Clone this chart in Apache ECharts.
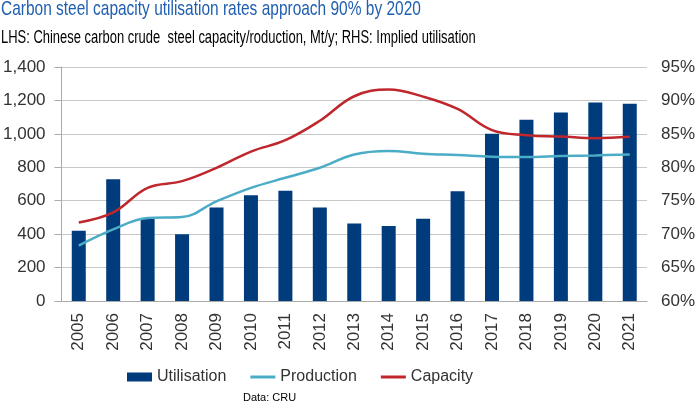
<!DOCTYPE html>
<html>
<head>
<meta charset="utf-8">
<script src="https://cdn.jsdelivr.net/npm/echarts@6/dist/echarts.min.js"></script>
<style>
  html, body { margin: 0; padding: 0; background: #fff; }
  #chart { width: 698px; height: 403px; }
</style>
</head>
<body>
<div id="chart"></div>
<script>
// categories
var years = ['2005', '2006', '2007', '2008', '2009', '2010', '2011', '2012', '2013',
  '2014', '2015', '2016', '2017', '2018', '2019', '2020', '2021'];
// RHS: implied utilisation, %
var utilisation = [70.5, 78.2, 72.3, 70.0, 74.0, 75.8, 76.5, 74.0, 71.6,
  71.2, 72.3, 76.4, 85.0, 87.1, 88.2, 89.7, 89.5];
// LHS: Mt/y
var production = [331, 428, 496, 502, 596, 677, 737, 797, 877,
  898, 881, 873, 863, 861, 867, 871, 877];
var capacity = [470, 530, 677, 717, 797, 894, 962, 1078, 1225,
  1265, 1223, 1149, 1022, 992, 984, 974, 982];

var plain = '"Liberation Sans", Arial, sans-serif';
var gridGrey = '#c8c8c8';
var labelColor = '#333333';
var lineIcon = 'path://M0,0 H25 V3 H0 Z';

var chart = echarts.init(document.getElementById('chart'));
chart.setOption({
  animation: false,
  // title lines are drawn squeezed, the original uses a narrow face
  graphic: [
    {
      type: 'text', x: 1, y: -1, scaleX: 0.737,
      style: {
        text: 'Carbon steel capacity utilisation rates approach 90% by 2020',
        font: '21px ' + plain, fill: '#1f5faf'
      }
    },
    {
      type: 'text', x: 1, y: 29, scaleX: 0.72,
      style: {
        text: 'LHS: Chinese carbon crude  steel capacity/roduction, Mt/y; RHS: Implied utilisation',
        font: '18px ' + plain, fill: '#000'
      }
    },
    {
      type: 'text', x: 243, y: 392,
      style: { text: 'Data: CRU', font: '11px ' + plain, fill: '#000' }
    }
  ],
  legend: {
    left: 122, top: 364,
    itemWidth: 25, itemHeight: 9, itemGap: 24,
    textStyle: { fontFamily: plain, fontSize: 16, color: labelColor },
    data: [
      { name: 'Utilisation', icon: 'rect' },
      { name: 'Production', icon: lineIcon, symbolKeepAspect: true },
      { name: 'Capacity', icon: lineIcon, symbolKeepAspect: true }
    ]
  },
  grid: { left: 58, right: 48, top: 67, bottom: 102, containLabel: false },
  xAxis: {
    type: 'category',
    data: years,
    axisLine: { lineStyle: { color: '#aaa' } },
    axisTick: { length: 6, lineStyle: { color: '#aaa' } },
    axisLabel: { rotate: 90, margin: 12, fontFamily: plain, fontSize: 17, color: labelColor }
  },
  yAxis: [
    {
      type: 'value', min: 0, max: 1400, interval: 200,
      axisLine: { show: true, lineStyle: { color: '#aaa' } },
      axisTick: { show: true, length: 7, lineStyle: { color: '#aaa' } },
      splitLine: { lineStyle: { color: gridGrey } },
      axisLabel: {
        margin: 16, fontFamily: plain, fontSize: 17, color: labelColor,
        formatter: function (v) { return v.toLocaleString('en-US'); }
      }
    },
    {
      type: 'value', min: 60, max: 95, interval: 5,
      axisLine: { show: false },
      axisTick: { show: false },
      splitLine: { show: false },
      axisLabel: { margin: 14, fontFamily: plain, fontSize: 17, color: labelColor, formatter: '{value}%' }
    }
  ],
  series: [
    {
      name: 'Utilisation', type: 'bar', yAxisIndex: 1,
      data: utilisation, barWidth: 14,
      itemStyle: { color: '#003b7c' }
    },
    {
      name: 'Production', type: 'line', yAxisIndex: 0,
      data: production, smooth: 0.4, symbol: 'none',
      lineStyle: { color: '#4bacc6', width: 2.5 },
      itemStyle: { color: '#4bacc6' }
    },
    {
      name: 'Capacity', type: 'line', yAxisIndex: 0,
      data: capacity, smooth: 0.4, symbol: 'none',
      lineStyle: { color: '#c0272d', width: 2.5 },
      itemStyle: { color: '#c0272d' }
    }
  ]
});
</script>
</body>
</html>
